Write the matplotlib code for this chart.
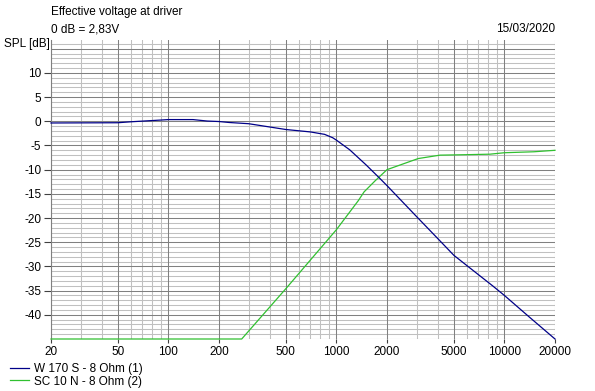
import numpy as np
import matplotlib.pyplot as plt
from matplotlib.ticker import FixedLocator, NullFormatter

# Frequenzgang
w170_f = [20, 50, 60, 80, 100, 140, 170, 200, 230, 300, 500, 700, 850, 950, 1000,
          1200, 1500, 1800, 2000, 3000, 4000, 5000, 7000, 8500, 10000, 14000, 20000]
w170_db = [-0.35, -0.3, -0.1, 0.15, 0.35, 0.35, 0.05, -0.05, -0.25, -0.5, -1.7,
           -2.2, -2.7, -3.4, -3.9, -5.9, -9.0, -11.7, -13.3, -19.7, -24.2, -27.7,
           -31.7, -34.0, -36.0, -40.4, -45.0]

sc10_f = [20, 273, 500, 1000, 1350, 1460, 1700, 2000, 2500, 3070, 4130, 6000,
          8200, 10000, 15000, 20000]
sc10_db = [-45, -45, -34.6, -22.4, -16.4, -14.6, -12.3, -10.0, -8.8, -7.7, -7.0,
           -6.9, -6.8, -6.5, -6.3, -6.0]

x_major = [20, 50, 100, 200, 500, 1000, 2000, 5000, 10000, 20000]
x_labels = ["20", "50", "100", "200", "500", "1000", "2000", "5000", "10000", "20000"]
y_labels = [-40, -35, -30, -25, -20, -15, -10, -5, 0, 5, 10]

plt.rcParams['font.family'] = ['Liberation Sans', 'DejaVu Sans']
fs = 8.5

fig = plt.figure(figsize=(5.95, 3.91), dpi=100)
W, H = 595, 391
ax = fig.add_axes([51 / W, 1 - 339 / H, (555 - 51) / W, (339 - 40) / H])

ax.set_xscale('log')
ax.set_xlim(20, 20000)
ax.set_ylim(-45, 16.8)

# Gitter
x_minor = [m * d for d in [10, 100, 1000, 10000] for m in range(1, 10)]
x_minor = [v for v in x_minor if 20 < v < 20000 and v not in x_major]
for v in x_minor:
    ax.axvline(v, color='#c0c0c0', lw=0.75, zorder=1)
for v in x_major:
    ax.axvline(v, color='#808080', lw=0.75, zorder=2)
for v in range(-45, 17):
    c = '#808080' if v % 5 == 0 else '#c0c0c0'
    ax.axhline(v, color=c, lw=0.75, zorder=2 if v % 5 == 0 else 1)

ax.plot(w170_f, w170_db, color='#000088', lw=0.9, zorder=4, clip_on=False,
        label="W 170 S - 8 Ohm (1)")
ax.plot(sc10_f, sc10_db, color='#30c030', lw=0.9, zorder=3, clip_on=False,
        label="SC 10 N - 8 Ohm (2)")

ax.xaxis.set_major_locator(FixedLocator(x_major))
ax.xaxis.set_minor_locator(FixedLocator([]))
ax.xaxis.set_minor_formatter(NullFormatter())
ax.set_xticklabels(x_labels, fontsize=fs)
ax.set_yticks(y_labels)
ax.set_yticklabels([str(v) for v in y_labels], fontsize=fs)
ax.tick_params(axis='x', length=3, width=0.8, color='#404040', pad=2)
ax.tick_params(axis='y', length=5, width=0.8, color='#404040', pad=2)

for s in ax.spines.values():
    s.set_visible(False)
ax.spines['left'].set_visible(True)
ax.spines['left'].set_color('#808080')
ax.spines['left'].set_linewidth(0.8)

fig.text(51 / W, 1 - 12 / H, "Effective voltage at driver", fontsize=fs, va='center')
fig.text(51 / W, 1 - 29 / H, "0 dB = 2,83V", fontsize=fs, va='center')
fig.text(555 / W, 1 - 29 / H, "15/03/2020", fontsize=fs, va='center', ha='right')
fig.text(4 / W, 1 - 44 / H, "SPL [dB]", fontsize=fs, va='center')

fig.legend(loc='upper left', bbox_to_anchor=(10 / W, 1 - 363 / H), frameon=False,
           fontsize=fs, handlelength=1.6, handletextpad=0.4, labelspacing=0.05,
           borderaxespad=0, borderpad=0)

plt.savefig("out.png", dpi=100)
